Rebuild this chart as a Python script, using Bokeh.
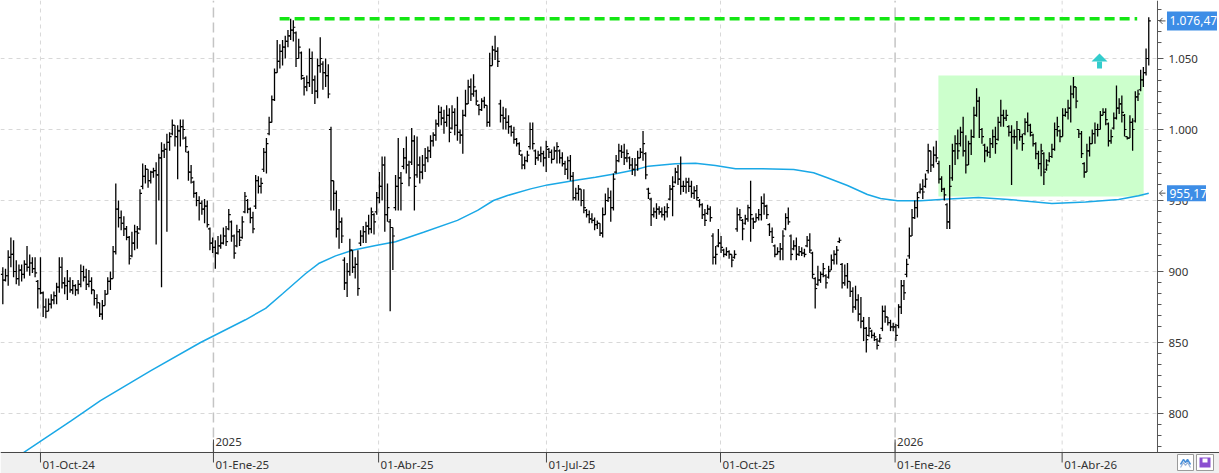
from bokeh.plotting import figure
from bokeh.models import Range1d, ColumnDataSource
from bokeh.core.properties import value
from bokeh.embed import file_html
from bokeh.resources import INLINE

# ---------------- data (daily OHLC) ----------------
highs = [
903,902,915,924,922,908,905,905,908,918, 912,910,910,894,910,886,881,881,884,886,
892,910,910,896,901,896,894,891,894,905, 904,902,901,896,887,884,878,880,887,896,
900,918,962,950,943,939,932,925,928,933, 932,958,976,975,972,971,973,977,983,991,
990,997,998,1007,1003,1003,1007,1007,995,985, 975,964,956,953,950,951,950,931,924,922,
925,926,931,932,944,936,926,933,930,939, 956,951,945,942,968,967,966,987,994,1009,
1024,1043,1063,1060,1063,1066,1070,1078,1077,1069, 1064,1055,1037,1038,1057,1055,1038,1050,1065,1048,
1050,1046,1002,964,957,944,938,910,906,923, 915,910,915,929,932,935,940,945,941,956,
970,981,981,962,937,931,968,994,970,987, 995,978,1001,996,995,981,982,987,988,996,
998,1007,1017,1016,1014,1017,1015,1017,1015,1023, 1000,1014,1028,1035,1036,1039,1028,1018,1022,1023,
1017,1054,1059,1066,1058,1021,1016,1015,1010,1003, 1002,994,991,983,981,985,1005,1005,986,985,
988,985,992,987,986,988,991,986,984,978, 981,982,970,959,961,958,958,944,943,941,
938,936,934,945,955,959,957,969,982,990, 989,990,986,981,980,980,985,987,999,984,
959,952,945,948,946,945,946,948,961,967, 973,975,981,964,966,966,964,960,961,951,
948,944,947,946,927,918,930,925,916,917, 915,912,915,945,944,937,940,947,964,938,
941,944,953,955,947,934,931,919,917,920, 929,941,945,926,922,924,918,917,916,925,
927,914,896,904,900,906,898,904,912,915, 918,924,906,905,906,893,889,890,884,882,
868,861,868,859,857,853,856,876,876,868, 866,864,863,877,894,894,909,931,944,950,
956,962,965,969,990,985,988,992,978,967, 959,948,975,990,996,1000,1002,1009,996,992,
1000,1016,1029,1023,1001,990,988,994,1000,1002, 1009,1021,1014,1014,1003,1003,1000,1006,1000,997,
1008,1012,1004,997,991,985,990,984,979,984, 990,1005,1009,1000,1015,1015,1021,1031,1037,1030,
1000,999,977,990,995,1000,1005,1004,1013,1015, 1015,1005,1000,1012,1031,1022,1024,1011,995,1010,
1008,1027,1028,1042,1044,1057,1079,
]
lows = [
877,893,890,903,896,891,890,893,895,900, 897,899,896,874,884,868,867,872,874,877,
877,885,888,884,880,885,884,883,884,889, 893,887,889,884,876,874,868,866,876,884,
887,895,912,931,929,925,922,905,910,915, 916,929,958,962,959,962,966,919,950,889,
980,928,985,996,988,965,988,993,984,964, 962,952,946,936,940,934,931,915,913,902,
912,916,919,918,929,921,909,917,918,923, 941,941,934,927,944,955,955,970,969,996,
1005,1020,1040,1043,1045,1050,1058,1063,1062,1044, 1050,1035,1024,1027,1030,1025,1018,1022,1040,1028,
1030,1022,943,943,924,916,920,887,882,897, 899,895,883,918,920,920,926,927,926,940,
948,950,928,935,872,901,943,943,943,972, 969,960,975,943,966,962,965,970,977,980,
988,992,1002,1003,997,1002,991,1000,996,992, 990,983,1009,1018,1020,1023,1017,1010,1013,1015,
1002,1002,1045,1049,1044,1005,1000,1000,997,995, 990,988,982,972,972,977,986,986,975,978,
977,974,970,980,976,979,976,976,974,968, 965,964,950,950,950,946,941,938,934,934,
929,930,925,924,940,949,935,943,969,977, 980,975,977,972,968,967,971,980,978,965,
951,932,938,937,940,938,936,938,950,939, 962,961,954,956,955,956,952,951,950,945,
937,932,940,935,905,905,917,913,910,911, 909,903,909,928,936,922,933,935,921,930,
935,936,936,940,937,925,920,910,912,908, 908,929,933,908,915,908,911,911,910,917,
913,895,874,890,892,896,888,895,901,905, 905,920,888,890,888,882,871,873,865,860,
851,843,854,853,851,845,850,858,864,862, 858,858,851,860,870,880,896,909,925,937,
938,955,951,959,969,970,973,977,962,956, 950,930,930,964,975,979,988,981,969,975,
982,994,1009,994,990,977,981,980,987,983, 992,1002,1002,1006,995,961,990,986,992,985,
996,998,995,988,979,972,967,961,971,977, 980,985,995,991,995,1009,1007,1005,1022,1015,
994,980,966,970,981,990,990,995,1000,1010, 1003,988,990,1000,1007,1011,1005,995,993,994,
985,1005,1020,1027,1030,1038,1045,
]
opens = [
898,894,897,910,912,900,895,901,898,905, 903,906,902,893,888,885,875,872,877,880,
883,889,903,892,890,893,887,890,887,891, 900,896,891,893,887,881,878,870,876,884,
893,895,914,944,938,934,930,924,911,920, 928,930,960,967,972,964,970,971,968,980,
985,986,991,997,1003,995,999,1002,994,984, 970,963,955,950,948,944,946,930,920,917,
913,918,920,925,930,935,925,918,928,924, 942,950,944,938,946,964,960,972,984,997,
1005,1021,1040,1048,1055,1058,1062,1066,1070,1068, 1050,1054,1036,1030,1033,1050,1035,1027,1045,1046,
1040,1038,1000,964,955,930,935,908,892,900, 915,903,905,920,925,928,932,930,940,942,
952,960,975,940,935,931,945,960,966,974, 980,975,977,992,968,975,970,975,980,985,
992,996,1004,1012,1008,1005,1010,1001,1012,1003, 998,996,1010,1018,1030,1025,1027,1017,1014,1020,
1017,1005,1045,1056,1055,1018,1010,1008,1005,1002, 998,993,990,982,975,978,988,1000,985,980,
982,983,980,986,984,979,985,985,980,976, 972,978,967,952,955,958,950,943,940,937,
936,933,934,927,940,950,952,945,970,978, 985,984,980,980,975,972,975,980,984,983,
958,951,940,942,944,942,940,942,951,958, 963,970,965,960,960,963,960,955,957,950,
947,940,941,944,925,910,918,920,915,912, 914,912,910,930,940,936,934,937,945,937,
935,938,940,948,946,933,928,918,912,914, 916,930,938,925,916,918,912,914,913,918,
922,913,895,891,894,898,897,896,900,908, 912,921,905,892,897,893,886,875,880,870,
865,860,855,858,855,852,851,860,872,868, 864,861,861,862,875,890,898,911,925,938,
945,956,958,960,971,985,975,982,976,965, 958,947,935,966,985,990,990,998,985,975,
990,995,1010,1020,1000,989,985,984,990,995, 993,1005,1010,1008,1002,998,995,995,1000,995,
997,1005,1003,996,990,983,976,983,972,978, 981,986,1000,999,995,1010,1012,1015,1025,1030,
1000,997,976,970,985,990,997,1000,1000,1010, 1012,1004,992,1001,1008,1015,1018,1010,995,994,
1005,1006,1023,1028,1035,1040,1050,
]
closes = [
894,897,910,912,900,895,901,898,905,903, 906,902,899,888,885,875,872,877,880,883,
889,903,892,890,893,887,890,887,891,900, 896,891,893,887,881,878,870,876,884,893,
895,914,944,938,934,930,924,909,920,928, 927,955,967,972,964,970,971,968,980,985,
986,991,995,1003,995,999,1002,1000,988,970, 966,955,950,948,944,946,933,920,917,913,
918,920,925,921,940,925,913,928,922,935, 953,944,938,930,964,960,962,984,990,1005,
1021,1040,1048,1055,1058,1062,1066,1070,1072,1050, 1058,1038,1030,1033,1050,1035,1027,1045,1050,1040,
1038,1025,964,955,930,935,925,892,900,915, 903,905,888,925,928,932,930,942,935,952,
960,975,940,945,931,925,960,966,962,980, 975,966,992,960,975,970,975,980,985,992,
996,1004,1012,1008,1005,1010,998,1012,1003,998, 996,1010,1018,1030,1025,1030,1020,1014,1020,1017,
1005,1045,1056,1055,1048,1010,1008,1005,1002,998, 993,990,985,975,978,982,1000,990,980,982,
983,980,988,984,979,985,988,980,976,972, 978,967,952,955,958,950,945,940,937,936,
933,934,927,940,950,952,945,965,978,985, 984,980,983,975,972,975,980,984,990,968,
955,940,942,944,942,940,942,945,958,960, 970,965,960,960,963,960,955,957,952,947,
940,936,944,938,910,912,920,917,912,914, 912,908,912,940,938,930,937,945,940,935,
938,940,948,946,940,928,924,912,914,916, 925,938,935,912,918,912,914,913,912,922,
915,898,888,894,898,902,892,900,908,912, 915,922,892,897,893,886,875,880,870,865,
860,852,860,855,854,848,853,872,868,864, 861,861,855,875,890,885,905,925,938,945,
952,958,956,965,985,975,982,980,965,958, 954,935,960,985,990,985,998,985,975,990,
995,1010,1020,1000,995,985,984,990,995,990, 1005,1010,1008,1010,998,995,995,1000,995,990,
1005,1003,998,990,983,976,985,970,975,981, 986,1000,1002,995,1010,1012,1015,1025,1030,1020,
997,983,970,985,990,997,1000,1000,1010,1012, 1007,992,995,1008,1015,1018,1012,1000,994,1005,
1000,1023,1025,1035,1040,1050,1076.47,
]

# moving average (read at sample bars)
ma_idx = [7.7, 25.5, 36.3, 54.9, 73.5, 90.2, 97.7, 104, 112.5, 117.4, 123.7, 130, 138.6, 146,
          156.4, 169, 176.5, 182.4, 187.6, 196.2, 202.5, 213.6, 220.3, 227.8, 235.2, 240, 250,
          257.5, 264.9, 272.4, 282.4, 294, 301.4, 306.5, 314, 321.4, 326.3, 332.6, 341.2, 351.6,
          362.7, 373.9, 385, 390, 402.5, 414.8, 422.2, 426]
ma_vals = [772.5, 795, 809, 830, 850, 866, 874, 884.3, 898.4, 905.6, 911, 915, 918.3, 921,
           927.7, 936, 943, 950, 953.5, 958.2, 961, 964.4, 966.4, 968.8, 971.6, 974.2, 975.8,
           976.3, 974.6, 972.3, 972.3, 971.8, 969.5, 966, 960.6, 954.2, 951.4, 949.8, 949.8, 951,
           952.1, 950.7, 948.8, 947.9, 949, 950.7, 953.3, 955.17]

# axis ticks / labels
price_ticks = [800, 850, 900, 950, 1000, 1050]
price_labels = ["800", "850", "900", "950", "1.000", "1.050"]
date_ticks = [14.0, 78.3, 139.7, 202.1, 266.8, 331.7, 393.8]
date_labels = ["01-Oct-24", "01-Ene-25", "01-Abr-25", "01-Jul-25", "01-Oct-25", "01-Ene-26", "01-Abr-26"]
year_ticks = [78.3, 331.7]
year_labels = ["2025", "2026"]

# annotations
box_x = [347.8, 424.1]
box_y = [952.8, 1038.0]
resist_x = [102.9, 421.7]
resist_level = 1078.0
last_value = 1076.47
ma_last = 955.17
arrow_x = 407.7
arrow_tip = 1053.5

FONT = "Noto Sans"
TXT = "#333333"

# scale helpers (pixels per unit on screen)
PX_X = 2.69
PX_Y = 1.42
X0, X1 = -0.86, 452.3          # whole canvas width
Y0, Y1 = 757.75, 1090.85       # whole canvas height
AXIS_X = 429.25                # price scale position
PLOT_BOTTOM = 772.54           # time axis position

n = len(closes)
idx = list(range(n))
o_c = [max(l, min(h, o)) for o, h, l in zip(opens, highs, lows)]
src = ColumnDataSource(dict(x=idx, xl=[i - 0.75 for i in idx], xr=[i + 0.75 for i in idx],
                            o=o_c, h=highs, l=lows, c=closes))

p = figure(width=1219, height=473, output_backend="svg", toolbar_location=None,
           x_range=Range1d(X0, X1), y_range=Range1d(Y0, Y1),
           x_axis_location=None, y_axis_location=None,
           min_border_left=0, min_border_top=0, min_border_right=0, min_border_bottom=0)
p.outline_line_color = None
p.background_fill_color = "white"
p.border_fill_color = "white"
p.grid.visible = False

# grid lines
p.segment(x0=[X0] * len(price_ticks), x1=[AXIS_X] * len(price_ticks), y0=price_ticks, y1=price_ticks,
          line_color="#d8d8d8", line_dash="4 4", line_width=1)
q_ticks = [t for t in date_ticks if t not in year_ticks]
p.segment(x0=q_ticks, x1=q_ticks, y0=[PLOT_BOTTOM] * len(q_ticks), y1=[Y1] * len(q_ticks),
          line_color="#d8d8d8", line_dash="4 4", line_width=1)
p.segment(x0=year_ticks, x1=year_ticks, y0=[PLOT_BOTTOM] * len(year_ticks), y1=[Y1] * len(year_ticks),
          line_color="#c4c4c4", line_dash="10 5", line_width=1.5)

# green box
p.quad(left=[box_x[0]], right=[box_x[1]], bottom=[box_y[0]], top=[box_y[1]],
       fill_color="#ccffcc", line_color=None)

# moving average
p.line(ma_idx, ma_vals, line_color="#1aa8e6", line_width=1.5)

# OHLC bars
p.segment(x0="x", y0="l", x1="x", y1="h", source=src, line_color="black", line_width=1.3)
p.segment(x0="xl", y0="o", x1="x", y1="o", source=src, line_color="black", line_width=1.2)
p.segment(x0="x", y0="c", x1="xr", y1="c", source=src, line_color="black", line_width=1.2)

# resistance dashed line
p.line(resist_x, [resist_level, resist_level], line_color="#14e614", line_width=3.5, line_dash="10 5")

# up arrow
hw, hh, sw, sh = 8 / PX_X, 8 / PX_Y, 2.5 / PX_X, 7 / PX_Y
p.patch([arrow_x - hw, arrow_x, arrow_x + hw], [arrow_tip - hh, arrow_tip, arrow_tip - hh],
        fill_color="#33cccc", line_color=None)
p.quad(left=[arrow_x - sw], right=[arrow_x + sw], bottom=[arrow_tip - hh - sh], top=[arrow_tip - hh],
       fill_color="#33cccc", line_color=None)

# ---- time axis (bottom strip) ----
p.quad(left=[X0], right=[X1], bottom=[Y0], top=[PLOT_BOTTOM], fill_color="#f0f0f0", line_color=None)
p.segment(x0=[X0], x1=[X1], y0=[PLOT_BOTTOM], y1=[PLOT_BOTTOM], line_color="#444444", line_width=1)
p.segment(x0=date_ticks, x1=date_ticks, y0=[PLOT_BOTTOM] * len(date_ticks),
          y1=[PLOT_BOTTOM - 10 / PX_Y] * len(date_ticks), line_color="#444444", line_width=1)
p.text(x=[t + 2 / PX_X for t in date_ticks], y=[PLOT_BOTTOM - 12.5 / PX_Y] * len(date_ticks),
       text=date_labels, text_align="left", text_baseline="middle",
       text_font=value(FONT), text_font_size=value("11.5px"), text_color=TXT)
# year marks
p.segment(x0=year_ticks, x1=year_ticks, y0=[PLOT_BOTTOM] * len(year_ticks),
          y1=[PLOT_BOTTOM + 13 / PX_Y] * len(year_ticks), line_color="#444444", line_width=1)
p.text(x=[t + 2 / PX_X for t in year_ticks], y=[PLOT_BOTTOM + 10 / PX_Y] * len(year_ticks),
       text=year_labels, text_align="left", text_baseline="middle",
       text_font=value(FONT), text_font_size=value("11.5px"), text_color=TXT)

# ---- price scale (right) ----
p.segment(x0=[AXIS_X], x1=[AXIS_X], y0=[PLOT_BOTTOM], y1=[Y1], line_color="#555555", line_width=1)
p.segment(x0=[AXIS_X] * len(price_ticks), x1=[AXIS_X + 6 / PX_X] * len(price_ticks),
          y0=price_ticks, y1=price_ticks, line_color="#555555", line_width=1)
minor = [m - 7.75 * k for m in price_ticks + [1100] for k in range(1, 6)]
minor = [m for m in minor if PLOT_BOTTOM < m < Y1]
p.segment(x0=[AXIS_X] * len(minor), x1=[AXIS_X + 4 / PX_X] * len(minor),
          y0=minor, y1=minor, line_color="#555555", line_width=1)
p.text(x=[AXIS_X + 11 / PX_X] * len(price_ticks), y=price_ticks, text=price_labels,
       text_align="left", text_baseline="middle",
       text_font=value(FONT), text_font_size=value("11.5px"), text_color=TXT)

# value flags
flag_left = AXIS_X + 9.5 / PX_X
flags = [(last_value, "1.076,47", flag_left + 50 / PX_X, 9.5), (ma_last, "955,17", flag_left + 39 / PX_X, 8)]
for v, lab, right, half in flags:
    p.quad(left=[flag_left], right=[right], bottom=[v - half / PX_Y], top=[v + half / PX_Y],
           fill_color="#3d8de6", line_color=None)
    p.text(x=[flag_left + 2.5 / PX_X], y=[v], text=[lab], text_align="left", text_baseline="middle",
           text_font=value(FONT), text_font_size=value("12px"), text_color="white")
    # small pointer arrow
    p.segment(x0=[AXIS_X + 2 / PX_X], x1=[AXIS_X + 8 / PX_X], y0=[v], y1=[v],
              line_color="#555555", line_width=1)
    p.line([AXIS_X + 5 / PX_X, AXIS_X + 2 / PX_X, AXIS_X + 5 / PX_X],
           [v + 3 / PX_Y, v, v - 3 / PX_Y], line_color="#555555", line_width=1)

# small toolbar-like icons in the corner
icon_l = [(1177 - 2.3) / PX_X, (1196 - 2.3) / PX_X]
icon_r = [(1193 - 2.3) / PX_X, (1213 - 2.3) / PX_X]
icon_b = PLOT_BOTTOM - 18 / PX_Y
icon_t = PLOT_BOTTOM - 2 / PX_Y
p.quad(left=icon_l, right=icon_r, bottom=[icon_b] * 2, top=[icon_t] * 2,
       fill_color="white", line_color="#9a9a9a", line_width=1)
zx = [icon_l[0] + k / PX_X for k in (3, 6, 8, 10, 13)]
p.line(zx, [icon_b + 6 / PX_Y, icon_b + 11 / PX_Y, icon_b + 8 / PX_Y, icon_b + 11 / PX_Y, icon_b + 6 / PX_Y],
       line_color="#4a90d9", line_width=1.5)
p.line(zx, [icon_b + 3 / PX_Y, icon_b + 8 / PX_Y, icon_b + 5 / PX_Y, icon_b + 8 / PX_Y, icon_b + 3 / PX_Y],
       line_color="#9ab4d8", line_width=1.2)
p.quad(left=[icon_l[1] + 3 / PX_X], right=[icon_r[1] - 3 / PX_X],
       bottom=[icon_b + 3 / PX_Y], top=[icon_t - 3 / PX_Y],
       fill_color="#8a4fd0", line_color=None)
p.quad(left=[icon_l[1] + 6 / PX_X], right=[icon_r[1] - 6 / PX_X],
       bottom=[icon_t - 8 / PX_Y], top=[icon_t - 4 / PX_Y],
       fill_color="white", line_color=None)

open("out.html", "w").write(file_html(p, INLINE))
